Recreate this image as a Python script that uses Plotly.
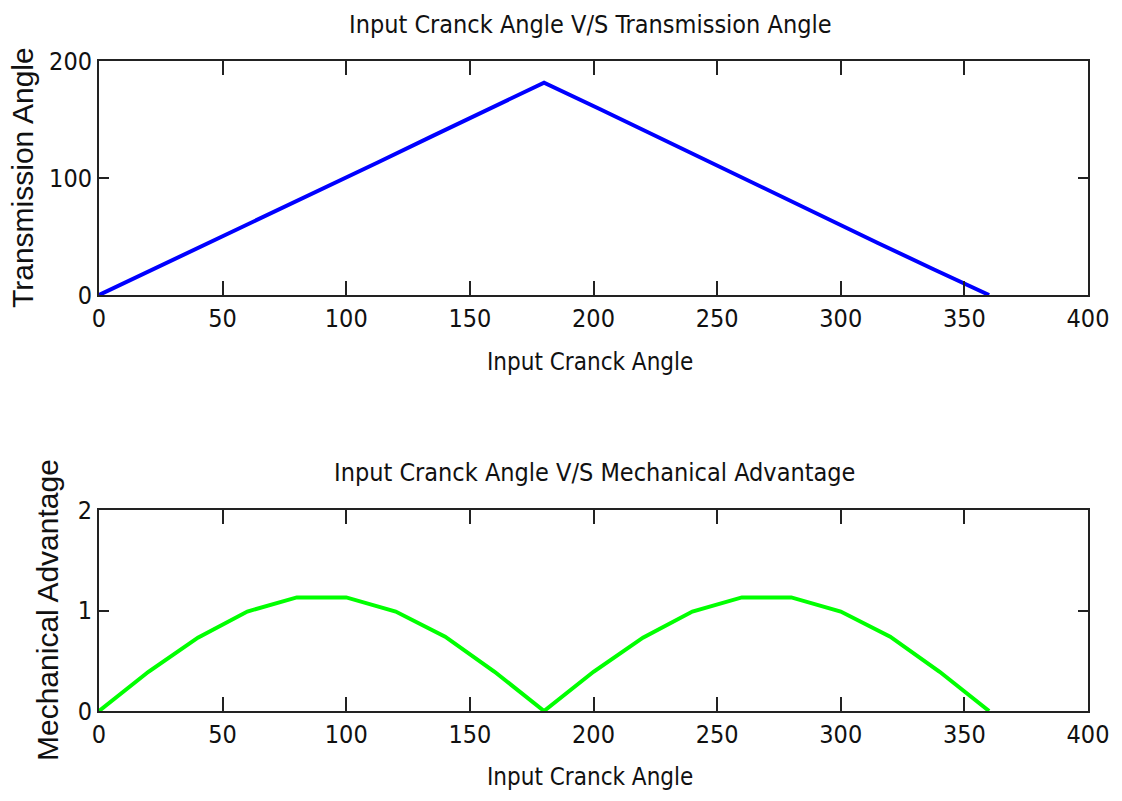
import plotly.graph_objects as go

# Data
crank_top = [0, 22.5, 45, 67.5, 90, 112.5, 135, 157.5, 180,
             202.5, 225, 247.5, 270, 292.5, 315, 337.5, 360]
transmission = [0, 22.5, 45, 67.5, 90, 113, 136, 159, 181.5,
                159, 136, 113, 90, 67, 44.5, 22, 0]

crank_bot = [0, 20, 40, 60, 80, 100, 120, 140, 160, 180,
             200, 220, 240, 260, 280, 300, 320, 340, 360]
mech_adv = [0, 0.39, 0.73, 0.99, 1.13, 1.13, 0.99, 0.74, 0.39, 0,
            0.39, 0.73, 0.99, 1.13, 1.13, 0.99, 0.74, 0.39, 0]

x_ticks = [0, 50, 100, 150, 200, 250, 300, 350, 400]
y_ticks_top = [0, 100, 200]
y_ticks_bot = [0, 1, 2]

W, H = 1122, 801
FONT = "Liberation Sans Narrow, Arial Narrow, DejaVu Sans Condensed, Arial, sans-serif"
FONT_Y = "Liberation Sans, Arial, sans-serif"

def py(y):
    return 1 - y / H

def px(x):
    return x / W

fig = go.Figure()
fig.add_trace(go.Scatter(x=crank_top, y=transmission, mode="lines",
                         line=dict(color="#0000ff", width=4),
                         xaxis="x", yaxis="y", showlegend=False))
fig.add_trace(go.Scatter(x=crank_bot, y=mech_adv, mode="lines",
                         line=dict(color="#00ff00", width=4),
                         xaxis="x2", yaxis="y2", showlegend=False))

xdom = [px(99), px(1088)]
axis_common = dict(showline=True, linecolor="#222", linewidth=2, mirror="ticks",
                   ticks="inside", tickcolor="#222", tickwidth=2,
                   showgrid=False, zeroline=False, automargin=False,
                   tickfont=dict(family=FONT, size=25, color="#111"))

fig.update_layout(
    width=W, height=H,
    margin=dict(l=0, r=0, t=0, b=0),
    paper_bgcolor="white", plot_bgcolor="white",
    xaxis=dict(domain=xdom, range=[0, 400], tickvals=x_ticks, ticklen=14,
               anchor="y", **axis_common),
    yaxis=dict(domain=[py(295), py(61)], range=[0, 200], tickvals=y_ticks_top,
               ticklen=10, anchor="x", **axis_common),
    xaxis2=dict(domain=xdom, range=[0, 400], tickvals=x_ticks, ticklen=14,
                anchor="y2", **axis_common),
    yaxis2=dict(domain=[py(711), py(510)], range=[0, 2], tickvals=y_ticks_bot,
                ticklen=10, anchor="x2", **axis_common),
)

def ann(text, x, y, size, family=FONT, angle=0):
    fig.add_annotation(text=text, x=px(x), y=py(y), xref="paper", yref="paper",
                       xanchor="center", yanchor="middle", showarrow=False,
                       textangle=angle, font=dict(family=family, size=size, color="#111"))

ann("Input Cranck Angle V/S Transmission Angle", 590, 25, 25)
ann("Input Cranck Angle", 590, 362, 24)
ann("Transmission Angle", 22, 178, 30, FONT_Y, -90)
ann("Input Cranck Angle V/S Mechanical Advantage", 594, 472, 25)
ann("Input Cranck Angle", 590, 777, 24)
ann("Mechanical Advantage", 47, 610, 30, FONT_Y, -90)

fig.write_html("out.html")
